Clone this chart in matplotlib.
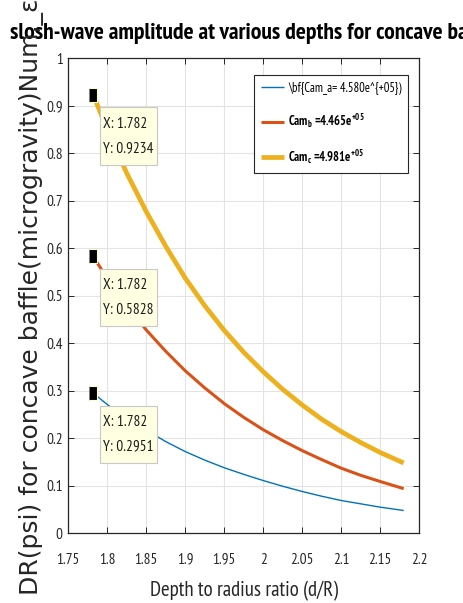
import matplotlib
matplotlib.use('Agg')
import matplotlib.pyplot as plt
import matplotlib.font_manager as fm
from matplotlib.path import Path

# depth to radius ratio sampled along each curve
depth = [1.782, 1.8, 1.825, 1.85, 1.875, 1.9, 1.925, 1.95, 1.975,
         2.0, 2.025, 2.05, 2.075, 2.1, 2.125, 2.15, 2.18]

dr_a = [0.2951, 0.271, 0.241, 0.217, 0.193, 0.172, 0.154, 0.138, 0.124,
        0.111, 0.099, 0.088, 0.078, 0.069, 0.062, 0.055, 0.048]
dr_b = [0.5828, 0.536, 0.479, 0.428, 0.383, 0.342, 0.306, 0.273, 0.244,
        0.218, 0.195, 0.174, 0.155, 0.137, 0.122, 0.109, 0.094]
dr_c = [0.9234, 0.849, 0.758, 0.677, 0.604, 0.537, 0.479, 0.427, 0.381,
        0.340, 0.303, 0.270, 0.240, 0.214, 0.191, 0.170, 0.148]

labels = [r"\bf{Cam_a= 4.580e^{+05})",
          r"Cam$_\mathbf{b}$ =4.465e$^\mathbf{+05}$",
          r"Cam$_\mathbf{c}$ =4.981e$^\mathbf{+05}$"]
colors = ['#0072BD', '#D95319', '#EDB120']
widths = [1.0, 2.2, 3.4]

tip_x = 1.782
tip_y = [0.2951, 0.5828, 0.9234]

xticks = [1.75, 1.8, 1.85, 1.9, 1.95, 2.0, 2.05, 2.1, 2.15, 2.2]
xticklabels = ['1.75', '1.8', '1.85', '1.9', '1.95', '2', '2.05', '2.1', '2.15', '2.2']
yticks = [0, 0.1, 0.2, 0.3, 0.4, 0.5, 0.6, 0.7, 0.8, 0.9, 1.0]
yticklabels = ['0', '0.1', '0.2', '0.3', '0.4', '0.5', '0.6', '0.7', '0.8', '0.9', '1']

names = {f.name for f in fm.fontManager.ttflist}
narrow = 'Liberation Sans'
for cand in ['PT Sans Narrow', 'Roboto Condensed', 'Liberation Sans Narrow']:
    if cand in names:
        narrow = cand
        break

plt.rcParams['font.family'] = [narrow, 'DejaVu Sans']
plt.rcParams['mathtext.fontset'] = 'custom'
plt.rcParams['mathtext.rm'] = narrow
plt.rcParams['mathtext.bf'] = narrow + ':bold'


def tip_box(x0, y0, width, height, mutation_size):
    # datatip box: little side padding, more above and below
    padx = 0.22 * mutation_size
    pady = 0.62 * mutation_size
    x0, y0 = x0 - padx, y0 - pady
    x1, y1 = x0 + width + 2 * padx, y0 + height + 2 * pady
    return Path([(x0, y0), (x1, y0), (x1, y1), (x0, y1), (x0, y0)], closed=True)


W, H = 464, 603
fig = plt.figure(figsize=(W / 100, H / 100), dpi=100)
ax = fig.add_axes([68.3 / W, (H - 533.3) / H, 351 / W, 475 / H])

for y, lab, c, lw in zip([dr_a, dr_b, dr_c], labels, colors, widths):
    ax.plot(depth, y, color=c, lw=lw, label=lab, solid_capstyle='butt', zorder=3)

ax.set_xlim(1.75, 2.2)
ax.set_ylim(0, 1)
ax.set_xticks(xticks)
ax.set_xticklabels(xticklabels)
ax.set_yticks(yticks)
ax.set_yticklabels(yticklabels)
ax.grid(True, color='#E3E3E3', lw=0.8)
ax.set_axisbelow(True)
ax.tick_params(direction='in', top=True, right=True, length=4, width=0.7,
               labelsize=11, colors='#262626')
ax.tick_params(axis='x', pad=14)
ax.tick_params(axis='y', pad=4)
for s in ax.spines.values():
    s.set_color('#262626')
    s.set_linewidth(0.9)

# data tips
rect = [(-0.62, -1), (0.62, -1), (0.62, 1), (-0.62, 1)]
for ty in tip_y:
    ax.plot([tip_x], [ty], marker=rect, ms=10, color='black', mec='#FFFFD0',
            mew=0.8, zorder=6)
    ax.annotate('X: %.3f\nY: %.4f' % (tip_x, ty),
                xy=(tip_x, ty), xytext=(10, -22), textcoords='offset pixels',
                ha='left', va='top', fontsize=11, linespacing=1.95, color='#1a1a1a',
                bbox=dict(boxstyle=tip_box, fc='#FFFFE1', ec='#C8C8C8', lw=0.8),
                zorder=7)

leg = ax.legend(loc='upper right', bbox_to_anchor=(0.969, 0.965), borderaxespad=0,
                fancybox=False, edgecolor='#262626', framealpha=1, fontsize=9,
                handlelength=1.85, handletextpad=0.3, labelspacing=1.4,
                borderpad=0.55)
leg.get_frame().set_linewidth(0.8)
for t in leg.get_texts()[1:]:
    t.set_fontweight('bold')

ax.set_xlabel('Depth to radius ratio (d/R)', fontsize=15, color='#262626', labelpad=10)

fig.text(10 / W, 1 - 39 / H,
         'slosh-wave amplitude at various depths for concave baffle',
         ha='left', va='baseline', fontsize=17, fontweight='bold', color='black')

fig.text(32 / W, 1 - 297 / H,
         'DR(psi) for concave baffle(microgravity)Num,_\u03b5',
         rotation=90, ha='center', va='center', fontsize=18,
         family=['DejaVu Sans'], color='#262626')

fig.savefig('out.png', dpi=100)
